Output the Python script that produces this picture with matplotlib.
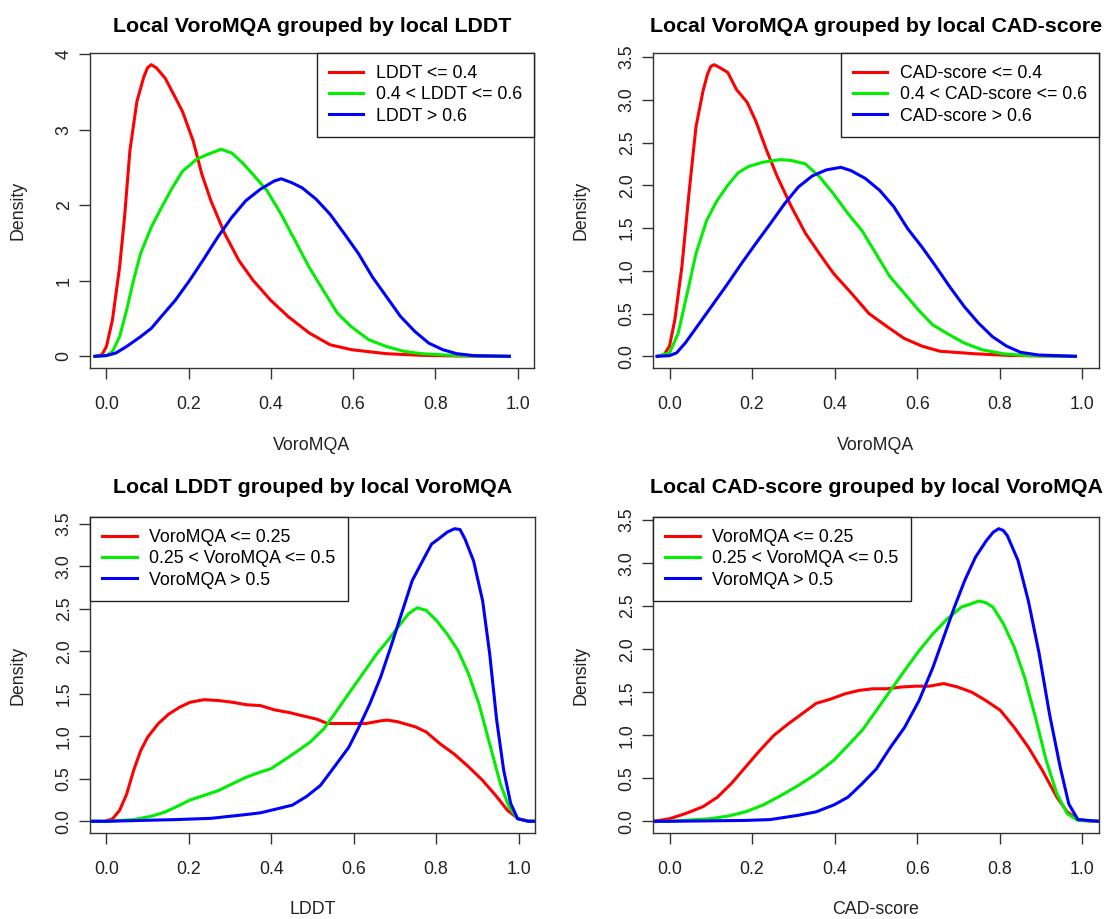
import matplotlib
matplotlib.use('Agg')
import matplotlib.pyplot as plt

plt.rcParams['font.family'] = ['Liberation Sans', 'DejaVu Sans']

# ---------------- Panel 1: Local VoroMQA grouped by local LDDT ----------------
p1_red_x = [-0.028, -0.011, 0.0, 0.0145, 0.032, 0.044, 0.057, 0.074, 0.091, 0.100, 0.109, 0.121, 0.143, 0.168, 0.185,
            0.211, 0.232, 0.254, 0.288, 0.322, 0.356, 0.399, 0.442, 0.493, 0.544, 0.596, 0.681, 0.767, 0.852, 0.98]
p1_red_y = [0.0, 0.02, 0.13, 0.48, 1.18, 1.84, 2.72, 3.37, 3.70, 3.82, 3.86, 3.82, 3.68, 3.42, 3.24,
            2.85, 2.41, 2.06, 1.62, 1.27, 1.01, 0.745, 0.526, 0.31, 0.153, 0.088, 0.035, 0.013, 0.005, 0.0]
p1_green_x = [-0.028, 0.0, 0.015, 0.032, 0.049, 0.066, 0.083, 0.109, 0.134, 0.160, 0.185, 0.220, 0.245, 0.279,
              0.305, 0.331, 0.356, 0.391, 0.425, 0.459, 0.493, 0.527, 0.562, 0.596, 0.638, 0.681, 0.724, 0.767,
              0.852, 0.98]
p1_green_y = [0.0, 0.01, 0.066, 0.26, 0.61, 1.01, 1.36, 1.71, 1.97, 2.23, 2.45, 2.61, 2.67, 2.74,
              2.69, 2.56, 2.41, 2.19, 1.88, 1.53, 1.18, 0.876, 0.57, 0.39, 0.22, 0.13, 0.066, 0.035,
              0.009, 0.0]
p1_blue_x = [-0.028, 0.0, 0.023, 0.049, 0.083, 0.109, 0.134, 0.168, 0.203, 0.237, 0.271, 0.305, 0.339, 0.374,
             0.408, 0.425, 0.450, 0.476, 0.510, 0.544, 0.579, 0.613, 0.647, 0.681, 0.715, 0.750, 0.784, 0.818,
             0.852, 0.895, 0.98]
p1_blue_y = [0.0, 0.01, 0.044, 0.13, 0.26, 0.37, 0.53, 0.745, 1.01, 1.29, 1.58, 1.84, 2.06, 2.21,
             2.32, 2.35, 2.30, 2.23, 2.08, 1.88, 1.62, 1.36, 1.05, 0.79, 0.53, 0.33, 0.175, 0.088,
             0.035, 0.009, 0.0]

# ---------------- Panel 2: Local VoroMQA grouped by local CAD-score ----------------
p2_red_x = [-0.03, -0.013, 0.0, 0.013, 0.030, 0.047, 0.064, 0.081, 0.092, 0.100, 0.108, 0.120, 0.141, 0.162, 0.188,
            0.209, 0.235, 0.261, 0.295, 0.329, 0.363, 0.397, 0.440, 0.483, 0.526, 0.568, 0.611, 0.654, 0.739,
            0.825, 0.983]
p2_red_y = [0.0, 0.02, 0.12, 0.43, 1.05, 1.90, 2.68, 3.10, 3.30, 3.39, 3.41, 3.38, 3.32, 3.12, 2.97,
            2.75, 2.41, 2.10, 1.75, 1.44, 1.20, 0.97, 0.74, 0.50, 0.35, 0.21, 0.12, 0.06, 0.03,
            0.01, 0.0]
p2_green_x = [-0.03, 0.0, 0.021, 0.043, 0.064, 0.090, 0.115, 0.141, 0.167, 0.192, 0.226, 0.269, 0.295, 0.329,
              0.363, 0.397, 0.432, 0.466, 0.500, 0.534, 0.568, 0.603, 0.637, 0.671, 0.714, 0.756, 0.808, 0.868,
              0.983]
p2_green_y = [0.0, 0.04, 0.27, 0.74, 1.20, 1.59, 1.82, 2.00, 2.15, 2.22, 2.27, 2.30, 2.29, 2.25,
              2.10, 1.90, 1.67, 1.47, 1.20, 0.93, 0.74, 0.54, 0.37, 0.27, 0.155, 0.078, 0.03, 0.008,
              0.0]
p2_blue_x = [-0.03, 0.0, 0.017, 0.038, 0.073, 0.107, 0.141, 0.175, 0.209, 0.244, 0.278, 0.312, 0.346, 0.380,
             0.415, 0.440, 0.474, 0.509, 0.543, 0.577, 0.611, 0.645, 0.679, 0.714, 0.748, 0.782, 0.816, 0.850,
             0.893, 0.983]
p2_blue_y = [0.0, 0.008, 0.04, 0.155, 0.39, 0.62, 0.85, 1.09, 1.32, 1.55, 1.78, 1.98, 2.11, 2.18,
             2.21, 2.17, 2.08, 1.94, 1.75, 1.49, 1.28, 1.05, 0.81, 0.58, 0.39, 0.23, 0.12, 0.047,
             0.016, 0.0]

# ---------------- Panel 3: Local LDDT grouped by local VoroMQA ----------------
p3_red_x = [-0.038, -0.003, 0.015, 0.032, 0.049, 0.066, 0.083, 0.100, 0.126, 0.151, 0.177, 0.203, 0.237, 0.271,
            0.305, 0.340, 0.374, 0.408, 0.442, 0.476, 0.511, 0.536, 0.562, 0.596, 0.630, 0.664, 0.682, 0.707,
            0.750, 0.776, 0.810, 0.844, 0.879, 0.913, 0.947, 0.973, 0.999, 1.024, 1.041]
p3_red_y = [0.0, 0.0, 0.03, 0.13, 0.32, 0.60, 0.83, 0.99, 1.15, 1.26, 1.34, 1.40, 1.43, 1.42,
            1.40, 1.37, 1.36, 1.31, 1.28, 1.24, 1.20, 1.15, 1.15, 1.15, 1.15, 1.18, 1.19, 1.17,
            1.11, 1.05, 0.91, 0.79, 0.64, 0.48, 0.29, 0.13, 0.03, 0.004, 0.0]
p3_green_x = [-0.038, 0.0, 0.066, 0.109, 0.143, 0.169, 0.203, 0.237, 0.271, 0.305, 0.340, 0.374, 0.400, 0.425,
              0.459, 0.494, 0.528, 0.553, 0.579, 0.605, 0.630, 0.656, 0.682, 0.707, 0.733, 0.754, 0.776, 0.801,
              0.827, 0.853, 0.879, 0.904, 0.930, 0.956, 0.977, 0.998, 1.024, 1.037]
p3_green_y = [0.0, 0.0, 0.02, 0.06, 0.11, 0.17, 0.25, 0.305, 0.36, 0.44, 0.52, 0.58, 0.62, 0.70,
              0.81, 0.93, 1.09, 1.26, 1.44, 1.62, 1.79, 1.97, 2.12, 2.28, 2.44, 2.51, 2.48, 2.36,
              2.20, 2.01, 1.73, 1.38, 0.91, 0.44, 0.17, 0.03, 0.0, 0.0]
p3_blue_x = [-0.038, 0.0, 0.169, 0.254, 0.340, 0.374, 0.417, 0.451, 0.485, 0.519, 0.553, 0.588, 0.613, 0.639,
             0.665, 0.690, 0.716, 0.742, 0.767, 0.789, 0.806, 0.827, 0.845, 0.858, 0.870, 0.891, 0.913, 0.930, 0.947,
             0.964, 0.981, 0.998, 1.024, 1.037]
p3_blue_y = [0.0, 0.0, 0.02, 0.035, 0.08, 0.10, 0.15, 0.19, 0.29, 0.42, 0.64, 0.87, 1.11, 1.38,
             1.69, 2.05, 2.44, 2.83, 3.06, 3.26, 3.32, 3.40, 3.44, 3.43, 3.32, 3.06, 2.59, 1.97, 1.19,
             0.60, 0.21, 0.03, 0.0, 0.0]

# ---------------- Panel 4: Local CAD-score grouped by local VoroMQA ----------------
p4_red_x = [-0.038, 0.0, 0.039, 0.081, 0.116, 0.150, 0.184, 0.218, 0.253, 0.287, 0.321, 0.355, 0.390, 0.424,
            0.458, 0.492, 0.527, 0.561, 0.595, 0.629, 0.664, 0.698, 0.732, 0.767, 0.801, 0.835, 0.869, 0.903,
            0.938, 0.963, 0.989, 1.015, 1.040]
p4_red_y = [0.0, 0.03, 0.09, 0.17, 0.28, 0.44, 0.63, 0.82, 1.00, 1.13, 1.25, 1.37, 1.42, 1.48,
            1.52, 1.54, 1.54, 1.56, 1.57, 1.57, 1.60, 1.56, 1.50, 1.40, 1.29, 1.09, 0.86, 0.59,
            0.28, 0.11, 0.02, 0.004, 0.0]
p4_green_x = [-0.038, 0.0, 0.098, 0.141, 0.184, 0.227, 0.270, 0.313, 0.355, 0.398, 0.432, 0.467, 0.501, 0.535,
              0.569, 0.604, 0.638, 0.672, 0.707, 0.732, 0.749, 0.766, 0.783, 0.809, 0.835, 0.860, 0.886, 0.912, 0.938,
              0.963, 0.989, 1.040]
p4_green_y = [0.0, 0.0, 0.03, 0.06, 0.11, 0.19, 0.30, 0.42, 0.55, 0.71, 0.88, 1.06, 1.29, 1.52,
              1.75, 1.98, 2.18, 2.35, 2.49, 2.53, 2.56, 2.54, 2.49, 2.29, 2.02, 1.67, 1.21, 0.71, 0.32,
              0.09, 0.01, 0.0]
p4_blue_x = [-0.038, 0.0, 0.184, 0.244, 0.312, 0.355, 0.398, 0.432, 0.467, 0.501, 0.535, 0.569, 0.604, 0.638,
             0.664, 0.690, 0.715, 0.741, 0.767, 0.784, 0.797, 0.808, 0.818, 0.844, 0.869, 0.895, 0.920, 0.946, 0.967, 0.989,
             1.040]
p4_blue_y = [0.0, 0.0, 0.01, 0.02, 0.07, 0.11, 0.19, 0.28, 0.44, 0.61, 0.86, 1.09, 1.40, 1.79,
             2.14, 2.49, 2.80, 3.07, 3.26, 3.36, 3.40, 3.38, 3.32, 3.03, 2.56, 1.95, 1.25, 0.63, 0.20, 0.02,
             0.0]

titles = ["Local VoroMQA grouped by local LDDT",
          "Local VoroMQA grouped by local CAD-score",
          "Local LDDT grouped by local VoroMQA",
          "Local CAD-score grouped by local VoroMQA"]
xlabels = ["VoroMQA", "VoroMQA", "LDDT", "CAD-score"]
legend_labels = [["LDDT <= 0.4", "0.4 < LDDT <= 0.6", "LDDT > 0.6"],
                 ["CAD-score <= 0.4", "0.4 < CAD-score <= 0.6", "CAD-score > 0.6"],
                 ["VoroMQA <= 0.25", "0.25 < VoroMQA <= 0.5", "VoroMQA > 0.5"],
                 ["VoroMQA <= 0.25", "0.25 < VoroMQA <= 0.5", "VoroMQA > 0.5"]]
xtick_vals = [0.0, 0.2, 0.4, 0.6, 0.8, 1.0]
ytick_vals = [[0, 1, 2, 3, 4], [0.0, 0.5, 1.0, 1.5, 2.0, 2.5, 3.0, 3.5],
              [0.0, 0.5, 1.0, 1.5, 2.0, 2.5, 3.0, 3.5], [0.0, 0.5, 1.0, 1.5, 2.0, 2.5, 3.0, 3.5]]
ytick_fmt = ["{:.0f}", "{:.1f}", "{:.1f}", "{:.1f}"]

series = [
    [(p1_red_x, p1_red_y), (p1_green_x, p1_green_y), (p1_blue_x, p1_blue_y)],
    [(p2_red_x, p2_red_y), (p2_green_x, p2_green_y), (p2_blue_x, p2_blue_y)],
    [(p3_red_x, p3_red_y), (p3_green_x, p3_green_y), (p3_blue_x, p3_blue_y)],
    [(p4_red_x, p4_red_y), (p4_green_x, p4_green_y), (p4_blue_x, p4_blue_y)],
]
colors = ["#FF0000", "#00EE00", "#0000FF"]
legend_loc = ["upper right", "upper right", "upper left", "upper left"]
title_pad = [15, 15, 17, 17]

W, H = 1104, 919
boxes = [(90, 53, 534, 368), (653, 53, 1099, 368), (90, 517, 535, 833), (653, 517, 1099, 833)]

fig = plt.figure(figsize=(W / 100, H / 100), dpi=100)
FS = 12.8

for i in range(4):
    l, t, r, b = boxes[i]
    ax = fig.add_axes([l / W, 1 - b / H, (r - l) / W, (b - t) / H])
    ymax = 0
    for (xs, ys), c in zip(series[i], colors):
        ax.plot(xs, ys, color=c, lw=2.2, solid_joinstyle='round')
        ymax = max(ymax, max(ys))
    ax.set_xlim(-0.04, 1.04)
    ax.set_ylim(-0.04 * ymax, 1.04 * ymax)
    ax.set_xticks(xtick_vals)
    ax.set_xticklabels(["{:.1f}".format(v) for v in xtick_vals])
    ax.set_yticks(ytick_vals[i])
    ax.set_yticklabels([ytick_fmt[i].format(v) for v in ytick_vals[i]])
    ax.tick_params(axis='both', labelsize=FS, length=8, width=1.0, color='#333333', labelcolor='#222222')
    ax.tick_params(axis='x', pad=12)
    ax.tick_params(axis='y', pad=4.5)
    for lbl in ax.get_yticklabels():
        lbl.set_rotation(90)
        lbl.set_va('center')
    for sp in ax.spines.values():
        sp.set_linewidth(1.0)
        sp.set_color('#333333')
    ax.set_title(titles[i], fontsize=15.4, fontweight='bold', pad=title_pad[i])
    ax.set_xlabel(xlabels[i], fontsize=FS, color='#222222')
    ax.set_ylabel("Density", fontsize=FS, color='#222222')
    ax.xaxis.set_label_coords(0.5, -(77.0 / (b - t)))
    ax.xaxis.label.set_va('center')
    ax.yaxis.set_label_coords(-(72.0 / (r - l)), 0.5)
    ax.yaxis.label.set_va('center')
    leg = ax.legend(legend_labels[i], loc=legend_loc[i], fontsize=FS, frameon=True, fancybox=False,
                    borderaxespad=0, handlelength=1.95, handletextpad=0.7, labelspacing=0.24,
                    borderpad=0.68)
    leg.get_frame().set_edgecolor('#222222')
    leg.get_frame().set_linewidth(1.0)
    leg.get_frame().set_alpha(1)

fig.savefig("out.png", dpi=100)
